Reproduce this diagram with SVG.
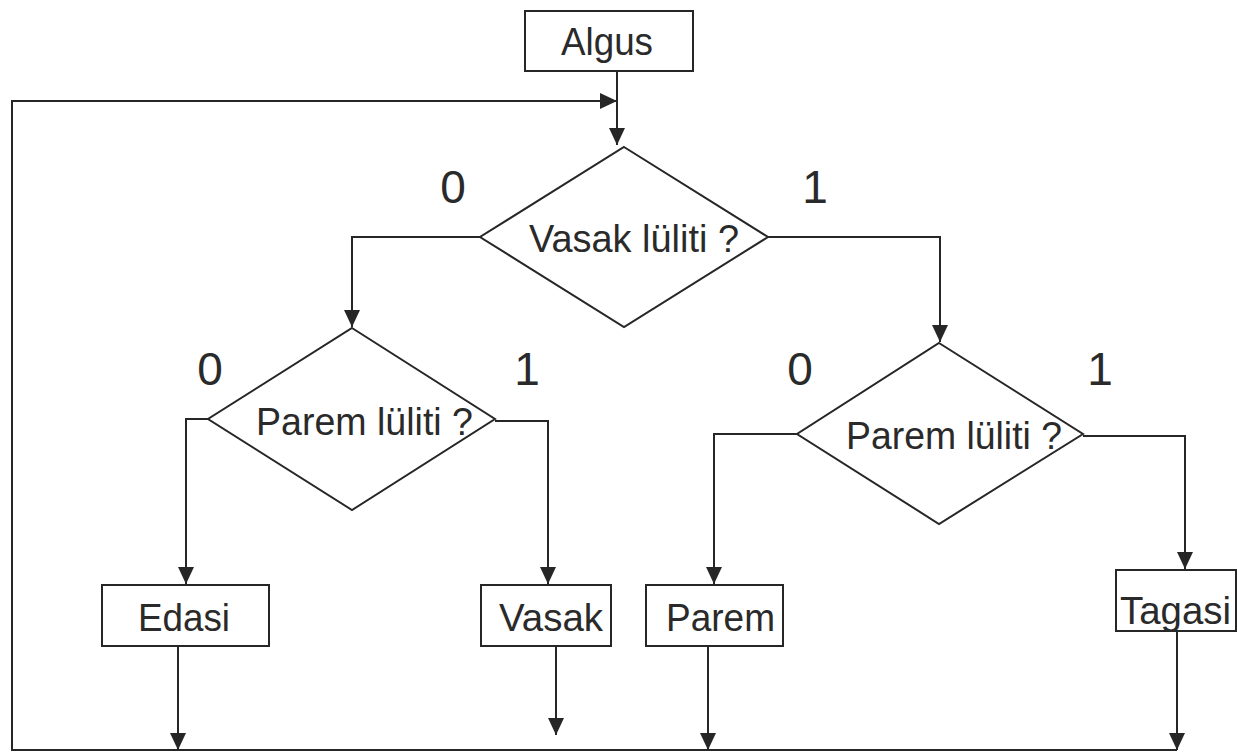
<svg xmlns="http://www.w3.org/2000/svg" width="1237" height="752" viewBox="0 0 1237 752">
<style>
.box{fill:#fff;stroke:#262626;stroke-width:2}
.dia{fill:#fff;stroke:#262626;stroke-width:2}
.ln{fill:none;stroke:#262626;stroke-width:2}
.t{font-family:"Liberation Sans",Arial,sans-serif;font-size:38px;fill:#2a2a2a}
.lb{font-family:"Liberation Sans",Arial,sans-serif;font-size:46px;fill:#2a2a2a;text-anchor:middle}
</style>
<defs>
<marker id="ah" markerUnits="userSpaceOnUse" markerWidth="17" markerHeight="16" viewBox="0 0 17 16" refX="17" refY="8" orient="auto">
<path d="M0,0 L17,8 L0,16 Z" fill="#262626"/>
</marker>
</defs>
<rect width="1237" height="752" fill="#fff"/>
<g id="connectors">
<path class="ln" d="M617,71 V145" marker-end="url(#ah)"/>
<path class="ln" d="M1177,750 H12 V101 H617" marker-end="url(#ah)"/>
<path class="ln" d="M480,237 H352 V327" marker-end="url(#ah)"/>
<path class="ln" d="M768,237 H940 V342" marker-end="url(#ah)"/>
<path class="ln" d="M208,419 H186 V584" marker-end="url(#ah)"/>
<path class="ln" d="M495,421 H548 V584" marker-end="url(#ah)"/>
<path class="ln" d="M797,434 H714 V584" marker-end="url(#ah)"/>
<path class="ln" d="M1083,436 H1185 V569" marker-end="url(#ah)"/>
<path class="ln" d="M178,646 V750" marker-end="url(#ah)"/>
<path class="ln" d="M556,646 V735" marker-end="url(#ah)"/>
<path class="ln" d="M708,646 V750" marker-end="url(#ah)"/>
<path class="ln" d="M1177,631 V750" marker-end="url(#ah)"/>
</g>
<g id="algus">
<rect class="box" x="525" y="11" width="168" height="60"/>
<text class="t" x="561" y="55" textLength="92" lengthAdjust="spacingAndGlyphs">Algus</text>
</g>
<g id="vasak-luliti">
<polygon class="dia" points="624,147 768,237 624,327 480,237"/>
<text class="t" x="529" y="252" textLength="210" lengthAdjust="spacingAndGlyphs">Vasak lüliti ?</text>
<text class="lb" x="453" y="203">0</text>
<text class="lb" x="815" y="203">1</text>
</g>
<g id="parem-luliti-left">
<polygon class="dia" points="352,328 495,419 352,510 208,419"/>
<text class="t" x="256" y="435" textLength="217" lengthAdjust="spacingAndGlyphs">Parem lüliti ?</text>
<text class="lb" x="210" y="385">0</text>
<text class="lb" x="527" y="385">1</text>
</g>
<g id="parem-luliti-right">
<polygon class="dia" points="939,343 1083,434 939,524 797,434"/>
<text class="t" x="846" y="449" textLength="216" lengthAdjust="spacingAndGlyphs">Parem lüliti ?</text>
<text class="lb" x="800" y="385">0</text>
<text class="lb" x="1100" y="385">1</text>
</g>
<g id="edasi">
<rect class="box" x="102" y="585" width="167" height="61"/>
<text class="t" x="138" y="631" textLength="92" lengthAdjust="spacingAndGlyphs">Edasi</text>
</g>
<g id="vasak">
<rect class="box" x="481" y="585" width="130" height="61"/>
<text class="t" x="499" y="631" textLength="104" lengthAdjust="spacingAndGlyphs">Vasak</text>
</g>
<g id="parem">
<rect class="box" x="646" y="585" width="137" height="61"/>
<text class="t" x="666" y="631" textLength="109" lengthAdjust="spacingAndGlyphs">Parem</text>
</g>
<g id="tagasi">
<rect class="box" x="1116" y="570" width="120" height="61"/>
<text class="t" x="1120" y="624" textLength="111" lengthAdjust="spacingAndGlyphs">Tagasi</text>
</g>
</svg>
